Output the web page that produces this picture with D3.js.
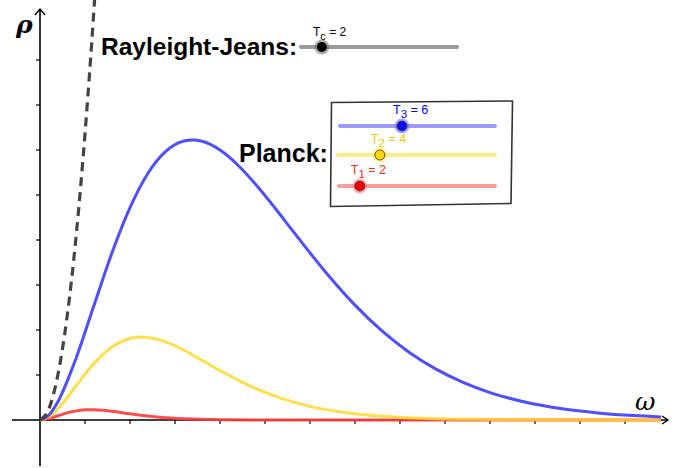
<!DOCTYPE html>
<html lang="en">
<head>
  <meta charset="UTF-8">
  <title>Planck vs Rayleigh-Jeans</title>
  <script src="https://d3js.org/d3.v7.min.js"></script>
  <style>
    body { margin: 0; background: #fff; }
    svg { display: block; }
  </style>
</head>
<body>
  <svg id="chart"></svg>

  <script>
    // Data (omega, rho)
    const blueOmega = [0, 1, 2, 4, 6, 8, 10, 12, 14, 16, 17, 18, 20, 22, 24, 26, 28, 30, 32, 35, 38, 41, 44, 47, 50, 54, 58, 62, 66, 69];
    const blueRho   = [0, 5.6, 20.5, 68.4, 127.4, 185.8, 236.0, 274.2, 298.7, 310.0, 311.1, 309.7, 300.0, 283.1, 261.4, 236.9, 211.2, 185.7, 161.1, 127.6, 98.9, 75.3, 56.5, 41.8, 30.5, 19.7, 12.5, 7.9, 4.9, 3.4];

    const yellowOmega = [0, 1, 2, 4, 6, 8, 10, 11, 12, 14, 16, 18, 20, 22, 24, 27, 30, 34, 38, 43, 48, 55, 62, 69];
    const yellowRho   = [0, 3.6, 12.5, 37.8, 62.9, 81.2, 90.6, 92.1, 91.8, 86.6, 77.5, 66.4, 55.0, 44.3, 34.8, 23.4, 15.1, 8.1, 4.2, 1.7, 0.7, 0.2, 0.04, 0.01];

    const redOmega = [0, 0.5, 1, 2, 3, 4, 5, 5.6, 6, 7, 8, 10, 12, 14, 17, 20, 25, 30, 40, 69];
    const redRho   = [0, 0.45, 1.56, 4.72, 7.86, 10.16, 11.33, 11.52, 11.47, 10.82, 9.68, 6.87, 4.35, 2.53, 1.01, 0.37, 0.06, 0.01, 0, 0];

    const rjOmega = [0, 1, 2, 3, 4, 5, 6, 6.5];
    const rjRho   = [0, 12.7, 50.8, 114, 203, 318, 457, 537];

    // slider settings (range 0..15)
    const sliderSubs = ["3", "2", "1"];
    const sliderValues = [6, 4, 2];
    const tcValue = 2;

    const xTicks = d3.range(5, 70, 5);
    const yTicks = d3.range(50, 450, 50);

    const W = 675, H = 468;
    const svg = d3.select("#chart").attr("width", W).attr("height", H);

    const x = d3.scaleLinear().domain([0, 70]).range([40, 670]);
    const y = d3.scaleLinear().domain([0, 500]).range([420, -30]);

    const x0 = x(0), y0 = y(0);

    // axes
    svg.append("line").attr("x1", 12).attr("x2", 667).attr("y1", y0).attr("y2", y0)
       .attr("stroke", "#000").attr("stroke-width", 1.6);
    svg.append("path").attr("d", `M${662},${y0 - 4} L${668},${y0} L${662},${y0 + 4}`)
       .attr("fill", "none").attr("stroke", "#000").attr("stroke-width", 1.4);
    svg.append("line").attr("x1", x0).attr("x2", x0).attr("y1", 466).attr("y2", 9)
       .attr("stroke", "#000").attr("stroke-width", 1.6);
    svg.append("path").attr("d", `M${x0 - 5},${15} L${x0},${9} L${x0 + 5},${15}`)
       .attr("fill", "none").attr("stroke", "#000").attr("stroke-width", 1.4);

    svg.selectAll(".xt").data(xTicks).enter().append("line")
       .attr("x1", d => x(d)).attr("x2", d => x(d))
       .attr("y1", y0).attr("y2", y0 + 4)
       .attr("stroke", "#000").attr("stroke-width", 1.2);
    svg.selectAll(".yt").data(yTicks).enter().append("line")
       .attr("x1", x0 - 4).attr("x2", x0)
       .attr("y1", d => y(d)).attr("y2", d => y(d))
       .attr("stroke", "#000").attr("stroke-width", 1.2);

    // axis labels
    svg.append("text").attr("x", 16).attr("y", 33)
       .style("font-family", "DejaVu Serif").style("font-style", "italic")
       .style("font-weight", "bold").style("font-size", "25px").text("ρ");
    svg.append("text").attr("x", 635).attr("y", 410)
       .style("font-family", "DejaVu Serif").style("font-style", "italic")
       .style("font-size", "25px").text("ω");

    // curves
    const line = d3.line().x(d => x(d[0])).y(d => y(d[1])).curve(d3.curveMonotoneX);
    const zip = (a, b) => a.map((v, i) => [v, b[i]]);

    svg.append("path").datum(zip(redOmega, redRho)).attr("d", line)
       .attr("fill", "none").attr("stroke", "#ff3b3b").attr("stroke-opacity", 0.9).attr("stroke-width", 3);
    svg.append("path").datum(zip(yellowOmega, yellowRho)).attr("d", line)
       .attr("fill", "none").attr("stroke", "#ffd92e").attr("stroke-opacity", 0.85).attr("stroke-width", 3);
    svg.append("path").datum(zip(blueOmega, blueRho)).attr("d", line)
       .attr("fill", "none").attr("stroke", "#3c3cff").attr("stroke-opacity", 0.9).attr("stroke-width", 3);
    svg.append("path").datum(zip(rjOmega, rjRho)).attr("d", line)
       .attr("fill", "none").attr("stroke", "#444").attr("stroke-width", 3.2)
       .attr("stroke-dasharray", "9,6");

    // labels
    svg.append("text").attr("x", 101).attr("y", 55)
       .style("font-family", "Liberation Sans, Arial, sans-serif").style("font-weight", "bold")
       .style("font-size", "24.5px").text("Rayleight-Jeans:");
    svg.append("text").attr("x", 239).attr("y", 162)
       .style("font-family", "Liberation Sans, Arial, sans-serif").style("font-weight", "bold")
       .style("font-size", "25px").text("Planck:");

    // Tc slider
    const sTc = d3.scaleLinear().domain([0, 15]).range([301, 457]);
    svg.append("line").attr("x1", sTc(0)).attr("x2", sTc(15)).attr("y1", 47).attr("y2", 47)
       .attr("stroke", "#999").attr("stroke-width", 4).attr("stroke-linecap", "round");
    svg.append("circle").attr("cx", sTc(tcValue)).attr("cy", 47).attr("r", 7.5).attr("fill", "#777").attr("opacity", 0.6);
    svg.append("circle").attr("cx", sTc(tcValue)).attr("cy", 47).attr("r", 5).attr("fill", "#000");
    const tcl = svg.append("text").attr("x", 313).attr("y", 36)
       .style("font-family", "Liberation Sans, Arial, sans-serif").style("font-size", "12px");
    tcl.append("tspan").text("T");
    tcl.append("tspan").attr("dy", 4).style("font-size", "11px").text("c");
    tcl.append("tspan").attr("dy", -4).text(" = 2");

    // box of Planck sliders
    svg.append("path").attr("d", "M331.5,102.5 L512.5,101 L511,203.5 L330.5,206.5 Z")
       .attr("fill", "none").attr("stroke", "#333").attr("stroke-width", 1.6);

    const sliders = [
      { y: 126, line: "#9a9aff", knob: "#0a0aff", halo: "#6f6fff", text: "#0000ee", x1: 340, x2: 495 },
      { y: 155, line: "#ffed8a", knob: "#ffd700", halo: "#ffe666", text: "#f0c800", x1: 338, x2: 495 },
      { y: 186, line: "#ff9c9c", knob: "#ee0000", halo: "#ff8080", text: "#ff2a2a", x1: 339, x2: 495 }
    ];
    sliders.forEach((s, i) => {
      const sc = d3.scaleLinear().domain([0, 15]).range([s.x1, s.x2]);
      const kx = sc(sliderValues[i]);
      svg.append("line").attr("x1", s.x1).attr("x2", s.x2).attr("y1", s.y).attr("y2", s.y)
         .attr("stroke", s.line).attr("stroke-width", 4).attr("stroke-linecap", "round");
      svg.append("circle").attr("cx", kx).attr("cy", s.y).attr("r", 7.5).attr("fill", s.halo).attr("opacity", 0.6);
      svg.append("circle").attr("cx", kx).attr("cy", s.y).attr("r", 5).attr("fill", s.knob)
         .attr("stroke", "#333").attr("stroke-width", 0.8);
      const t = svg.append("text").attr("x", kx - 9).attr("y", s.y - 12)
         .style("font-family", "Liberation Sans, Arial, sans-serif").style("font-size", "12.5px")
         .attr("fill", s.text);
      t.append("tspan").text("T");
      t.append("tspan").attr("dy", 4).style("font-size", "11.5px").text(sliderSubs[i]);
      t.append("tspan").attr("dy", -4).text(" = " + sliderValues[i]);
    });
  </script>
</body>
</html>
